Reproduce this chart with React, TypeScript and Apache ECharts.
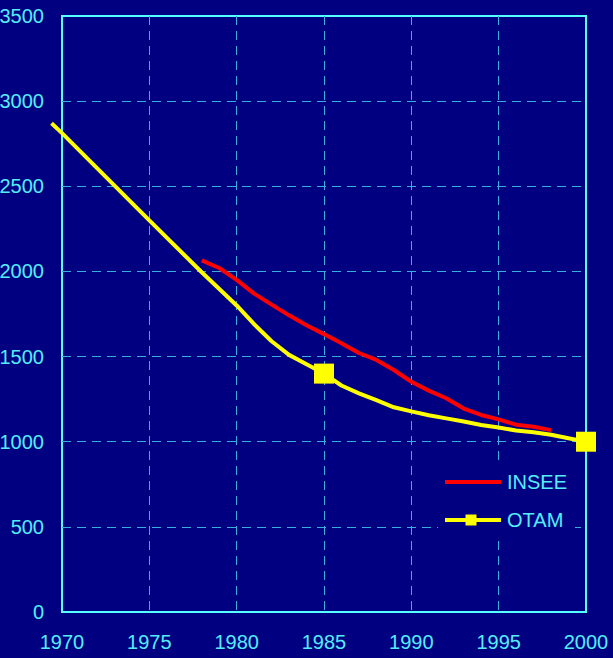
import React, { useEffect, useRef } from "react";
import * as echarts from "echarts";

const xTicks = { min: 1970, max: 2000, step: 5 };
const yTicks = { min: 0, max: 3500, step: 500 };

// OTAM line begins slightly before 1970 (drawn past the plot's left edge)
const otamLeadYear = 1969.4;
const otamLeadValue = 2870;
const otamYears = [1970, 1975, 1978, 1980, 1981, 1982, 1983, 1984, 1985, 1986, 1987, 1988, 1989, 1990, 1991, 1992, 1993, 1994, 1995, 1996, 1997, 1998, 1999, 2000];
const otamValues = [2812, 2300, 1995, 1800, 1690, 1590, 1510, 1455, 1400, 1330, 1284, 1244, 1202, 1178, 1155, 1137, 1119, 1098, 1083, 1066, 1056, 1041, 1020, 1000];
const otamMarkerYears = [1985, 2000];

const inseeYears = [1978, 1979, 1980, 1981, 1982, 1983, 1984, 1985, 1986, 1987, 1988, 1989, 1990, 1991, 1992, 1993, 1994, 1995, 1996, 1997, 1998];
const inseeValues = [2065, 2020, 1950, 1870, 1805, 1742, 1684, 1632, 1578, 1521, 1480, 1421, 1352, 1300, 1255, 1195, 1157, 1131, 1100, 1088, 1068];

const seriesNames = ["INSEE", "OTAM"];

const NAVY = "#000080";
const CYAN = "#55ffff";
const LABEL = "#55eeff";
const GRID = "#3aaedc";
const FONT = "Liberation Sans, Arial, sans-serif";

export default function App() {
  const ref = useRef<HTMLDivElement>(null);
  useEffect(() => {
    if (!ref.current) return;
    const chart = echarts.init(ref.current, undefined, { renderer: "svg" });
    const otamData = otamYears.map((y, i) =>
      otamMarkerYears.includes(y)
        ? { value: [y, otamValues[i]], symbol: "rect", symbolSize: 20 }
        : { value: [y, otamValues[i]], symbol: "none" }
    );
    const inseeData = inseeYears.map((y, i) => [y, inseeValues[i]]);
    chart.setOption({
      animation: false,
      backgroundColor: NAVY,
      grid: {
        left: 62,
        top: 16,
        right: 27,
        bottom: 46,
        containLabel: false,
        outerBoundsMode: "none",
        show: true,
        borderColor: CYAN,
        borderWidth: 2,
        backgroundColor: "transparent",
      },
      xAxis: {
        type: "value",
        min: xTicks.min,
        max: xTicks.max,
        interval: xTicks.step,
        axisLine: { show: false },
        axisTick: { show: false },
        splitLine: {
          show: true,
          showMinLine: false,
          showMaxLine: false,
          lineStyle: { color: GRID, width: 1, type: [9, 6] },
        },
        axisLabel: {
          color: LABEL,
          fontSize: 20,
          fontFamily: FONT,
          margin: 20,
          formatter: (v: number) => String(v),
        },
      },
      yAxis: {
        type: "value",
        min: yTicks.min,
        max: yTicks.max,
        interval: yTicks.step,
        axisLine: { show: false },
        axisTick: { show: false },
        splitLine: {
          show: true,
          showMinLine: false,
          showMaxLine: false,
          lineStyle: { color: GRID, width: 1, type: [9, 6] },
        },
        axisLabel: {
          color: LABEL,
          fontSize: 20,
          fontFamily: FONT,
          margin: 18,
          formatter: (v: number) => String(v),
        },
      },
      series: [
        {
          name: seriesNames[1] + "-lead",
          type: "custom",
          clip: false,
          silent: true,
          encode: { x: 0, y: 1 },
          data: [[otamYears[0], otamValues[0], otamLeadYear, otamLeadValue]],
          renderItem: (_params: any, api: any) => {
            const p1 = api.coord([api.value(2), api.value(3)]);
            const p2 = api.coord([api.value(0), api.value(1)]);
            return {
              type: "line",
              shape: { x1: p1[0], y1: p1[1], x2: p2[0], y2: p2[1] },
              style: { stroke: "#ffff00", lineWidth: 4 },
            };
          },
          z: 3,
        },
        {
          name: seriesNames[1],
          type: "line",
          data: otamData,
          clip: false,
          showSymbol: true,
          symbol: "none",
          itemStyle: { color: "#ffff00" },
          lineStyle: { color: "#ffff00", width: 4 },
          z: 3,
        },
        {
          name: seriesNames[0],
          type: "line",
          data: inseeData,
          symbol: "none",
          clip: false,
          lineStyle: { color: "#ff0000", width: 4 },
          z: 4,
        },
      ],
      graphic: [
        {
          type: "rect",
          shape: { x: 438, y: 463, width: 137, height: 74 },
          style: { fill: NAVY },
          z: 10,
        },
        {
          type: "line",
          shape: { x1: 445, y1: 482, x2: 501, y2: 482 },
          style: { stroke: "#ff0000", lineWidth: 4 },
          z: 11,
        },
        {
          type: "text",
          x: 507,
          y: 482,
          style: {
            text: seriesNames[0],
            fill: LABEL,
            font: `20px ${FONT}`,
            textVerticalAlign: "middle",
            verticalAlign: "middle",
          },
          z: 11,
        },
        {
          type: "line",
          shape: { x1: 445, y1: 520, x2: 501, y2: 520 },
          style: { stroke: "#ffff00", lineWidth: 4 },
          z: 11,
        },
        {
          type: "rect",
          shape: { x: 465.5, y: 514.5, width: 11, height: 11 },
          style: { fill: "#ffff00" },
          z: 12,
        },
        {
          type: "text",
          x: 507,
          y: 520,
          style: {
            text: seriesNames[1],
            fill: LABEL,
            font: `20px ${FONT}`,
            textVerticalAlign: "middle",
            verticalAlign: "middle",
          },
          z: 11,
        },
      ],
    });
    return () => chart.dispose();
  }, []);
  return (
    <div
      ref={ref}
      style={{ position: "fixed", left: 0, top: 0, width: 613, height: 658 }}
    />
  );
}
